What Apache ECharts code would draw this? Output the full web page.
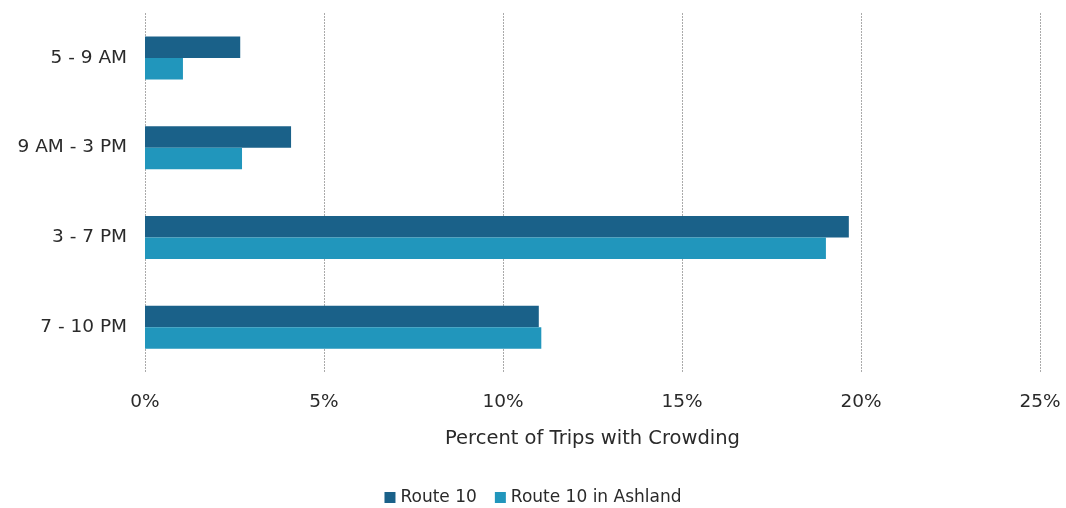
<!DOCTYPE html>
<html><head><meta charset="utf-8">
<script src="https://cdn.jsdelivr.net/npm/echarts@6/dist/echarts.min.js"></script>
<style>html,body{margin:0;padding:0;background:#fff}#c{width:1066px;height:508px}</style>
</head><body><div id="c"></div>
<script>
var categories = ['5 - 9 AM', '9 AM - 3 PM', '3 - 7 PM', '7 - 10 PM'];
var route10 = [2.66, 4.08, 19.66, 11.0];
var route10Ashland = [1.06, 2.71, 19.02, 11.07];
var seriesNames = ['Route 10', 'Route 10 in Ashland'];
var FONT = 'DejaVu Sans';
var chart = echarts.init(document.getElementById('c'));
chart.setOption({
  animation: false,
  textStyle: {fontFamily: FONT},
  legend: {
    bottom: -3, left: 'center', itemWidth: 11, itemHeight: 11, itemGap: 18,
    icon: 'rect',
    textStyle: {fontFamily: FONT, fontSize: 17, color: '#2a2a2a'},
    data: seriesNames
  },
  grid: {left: 145, right: 26, top: 13, bottom: 136},
  xAxis: {
    type: 'value', min: 0, max: 25, interval: 5,
    name: 'Percent of Trips with Crowding', nameLocation: 'middle', nameGap: 57,
    nameTextStyle: {fontFamily: FONT, fontSize: 19.5, color: '#2a2a2a'},
    axisLabel: {formatter: '{value}%', fontFamily: FONT, fontSize: 18.5, color: '#2a2a2a', margin: 21},
    axisLine: {show: false}, axisTick: {show: false},
    splitLine: {show: true, lineStyle: {color: '#aaa', type: [2, 1], width: 1}}
  },
  yAxis: {
    type: 'category', data: categories, inverse: true,
    axisLabel: {fontFamily: FONT, fontSize: 18.5, color: '#2a2a2a', margin: 18},
    axisLine: {show: false}, axisTick: {show: false}
  },
  series: [
    {name: seriesNames[0], type: 'bar', data: route10, barWidth: 21.5, barGap: '0%', itemStyle: {color: '#1a6189'}},
    {name: seriesNames[1], type: 'bar', data: route10Ashland, barWidth: 21.5, barGap: '0%', itemStyle: {color: '#2196bc'}}
  ]
});
</script></body></html>
